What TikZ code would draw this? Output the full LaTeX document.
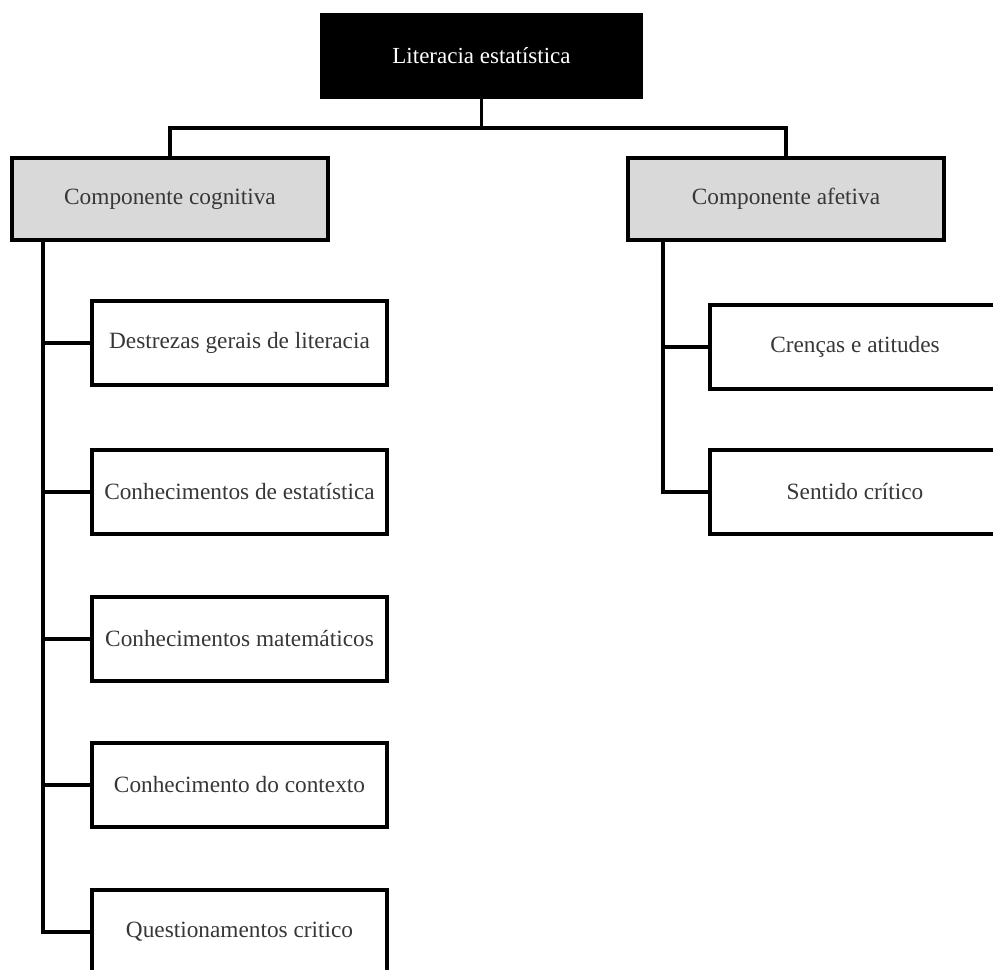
\documentclass[tikz,border=0pt]{standalone}
\usepackage{fontspec}
\setmainfont{Liberation Serif}
\usepackage{xcolor}
\usetikzlibrary{positioning}
\definecolor{headgray}{RGB}{217,217,217}
\definecolor{textgray}{RGB}{55,55,55}

\begin{document}
\begin{tikzpicture}[
    x=1pt, y=-1pt,
    root/.style={draw=black, line width=3.8pt, fill=black, text=white, minimum width=319pt, minimum height=83pt, inner sep=0pt, font=\fontsize{23}{27}\selectfont},
    component/.style={draw=black, line width=3.8pt, fill=headgray, text=textgray, minimum width=316pt, minimum height=82pt, inner sep=0pt, font=\fontsize{23.3}{27}\selectfont},
    item/.style={draw=black, line width=3.8pt, fill=white, text=textgray, minimum width=295pt, minimum height=84pt, inner sep=0pt, font=\fontsize{23.3}{27}\selectfont},
    link/.style={line width=3.8pt}
]
    \useasboundingbox (0,0) rectangle (993,969);
    \clip (0,0) rectangle (993,969);

    % Root
    \node[root] (literacia) at (481.5,56) {Literacia estatística};

    % Components
    \node[component] (cognitiva) at (170,199) {Componente cognitiva};
    \node[component] (afetiva) at (786,199) {Componente afetiva};

    \coordinate (bar) at (481.5,128);
    \draw[link] (literacia.south) -- (bar);
    \draw[link] (cognitiva.north) |- (bar) -| (afetiva.north);

    % Cognitive items
    \node[item] (destrezas) at (239.5,343) {Destrezas gerais de literacia};
    \node[item] (estatistica) at (239.5,492) {Conhecimentos de estatística};
    \node[item] (matematicos) at (239.5,639) {Conhecimentos matemáticos};
    \node[item] (contexto) at (239.5,785) {Conhecimento do contexto};
    \node[item] (questionamentos) at (239.5,932) {Questionamentos critico};

    \coordinate (cogtrunk) at ([xshift=33pt]cognitiva.south west);
    \draw[link] (cogtrunk) |- (questionamentos.west);
    \foreach \n in {destrezas, estatistica, matematicos, contexto}
        \draw[link] (cogtrunk |- \n.west) -- (\n.west);

    % Affective items
    \node[item, minimum width=290pt] (crencas) at (855,347) {Crenças e atitudes};
    \node[item, minimum width=290pt] (sentido) at (855,492) {Sentido crítico};

    \coordinate (afetrunk) at ([xshift=37pt]afetiva.south west);
    \draw[link] (afetrunk) |- (sentido.west);
    \draw[link] (afetrunk |- crencas.west) -- (crencas.west);
\end{tikzpicture}
\end{document}
